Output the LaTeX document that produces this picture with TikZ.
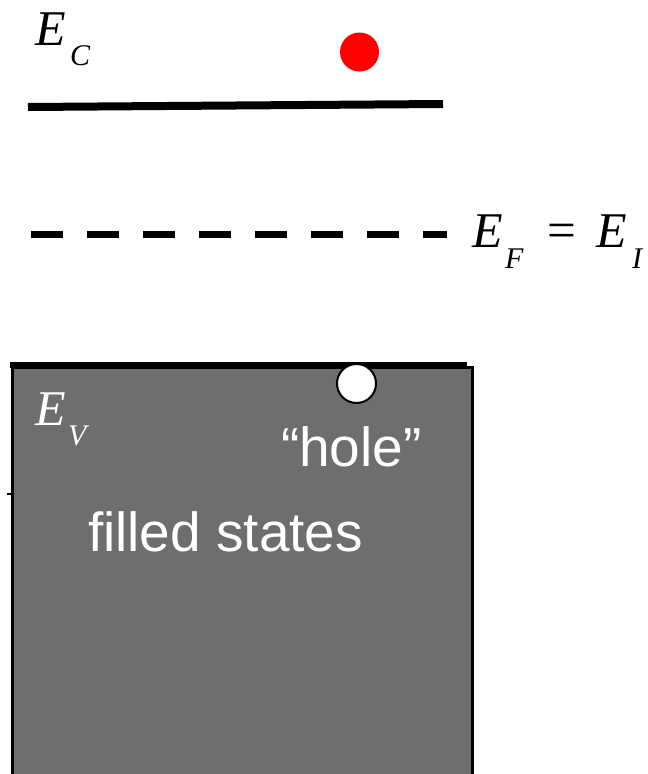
\documentclass[tikz,border=0pt]{standalone}
\usepackage{fontspec}
\setmainfont{Liberation Serif}
\newfontfamily\arialfont{Liberation Sans}
\definecolor{bandgrey}{HTML}{6E6E6E}
\begin{document}
\begin{tikzpicture}[x=1pt,y=-1pt,
  lbl/.style={inner sep=0pt,outer sep=0pt,anchor=base west},
  bigsym/.style={lbl,font=\fontsize{50}{50}\selectfont\itshape},
  subsym/.style={lbl,font=\fontsize{30}{30}\selectfont\itshape},
  sanslbl/.style={lbl,text=white,font=\arialfont\fontsize{55}{55}\selectfont},
  level/.style={line width=8pt},
]
\useasboundingbox (0,0) rectangle (648,774);
% conduction band
\node[bigsym] (ec) at (35,45) {E};
\node[subsym] (ecs) at (70,65) {C};
\coordinate (cbl) at (28,107);
\coordinate (cbr) at (443,104);
\draw[level] (cbl) -- (cbr);
\node[circle,fill=red,minimum size=39pt,inner sep=0pt] (el) at (359.5,52) {};
% Fermi level
\coordinate (efl) at (31,234.5);
\coordinate (efr) at (447,234.5);
\draw[line width=7pt,dash pattern=on 32pt off 24pt] (efl) -- (efr);
\node[bigsym] (ef) at (472,247) {E};
\node[subsym] (efs) at (505,268) {F};
\node[lbl,font=\fontsize{51}{51}\selectfont] (eq) at (547,247) {=};
\node[bigsym] (ei) at (596,247) {E};
\node[subsym] (eis) at (632,268) {I};
% valence band
\draw[fill=bandgrey,draw=black,line width=3pt] (12.5,367.5) rectangle (472.5,780);
\coordinate (vbl) at (10,365);
\coordinate (vbr) at (467,365);
\draw[line width=6pt] (vbl) -- (vbr);
\node[circle,fill=white,draw=black,line width=2pt,minimum size=39pt,inner sep=0pt] (hole) at (356.5,383.5) {};
\node[bigsym,text=white] (ev) at (35,425) {E};
\node[subsym,text=white] (evs) at (68,445) {V};
\node[sanslbl] (holetxt) at (281,466) {“hole”};
\node[sanslbl] (filled) at (88,551) {filled states};
% small tick
\coordinate (t1) at (7,494);
\coordinate (t2) at (12,494);
\draw[line width=2pt] (t1) -- (t2);
\end{tikzpicture}
\end{document}
